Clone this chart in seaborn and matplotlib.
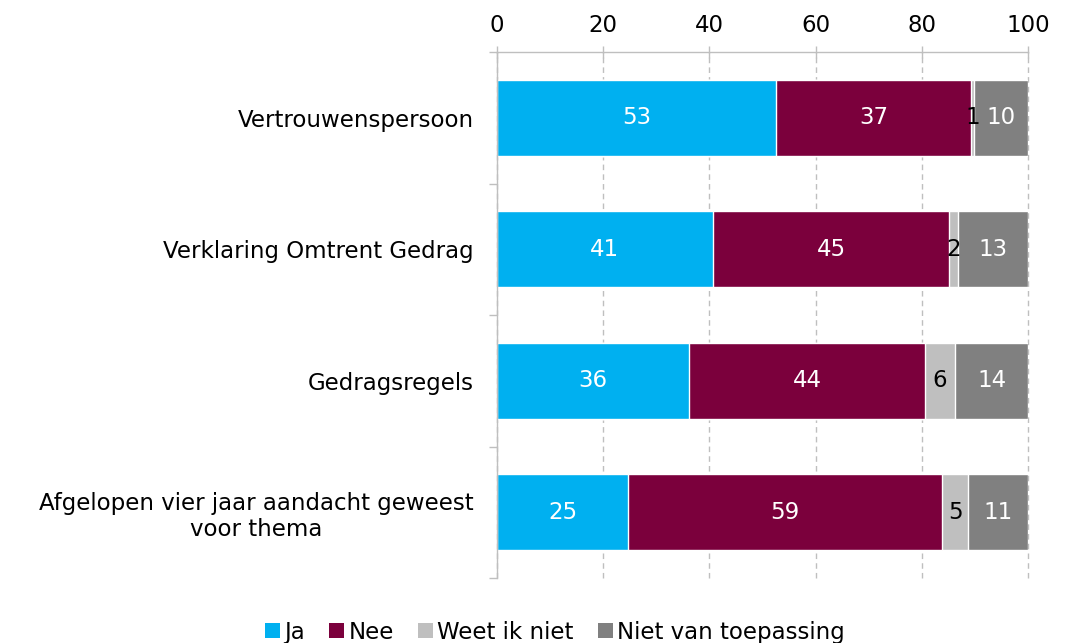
import matplotlib
matplotlib.use("Agg")
import matplotlib.pyplot as plt
import seaborn as sns
import pandas as pd
import numpy as np
from matplotlib.patches import Patch

categories = ["Vertrouwenspersoon", "Verklaring Omtrent Gedrag", "Gedragsregels",
              "Afgelopen vier jaar aandacht geweest\nvoor thema"]
series_names = ["Ja", "Nee", "Weet ik niet", "Niet van toepassing"]
ja = [52.6, 40.6, 36.2, 24.7]
nee = [36.6, 44.6, 44.4, 59.1]
weet = [0.6, 1.6, 5.7, 4.9]
niet = [10.2, 13.2, 13.7, 11.3]
colors = ["#00B0F0", "#7B003C", "#BFBFBF", "#808080"]
label_colors = ["white", "white", "black", "white"]
x_ticks = [0, 20, 40, 60, 80, 100]

sns.set_theme(style="white")
plt.rcParams['font.family'] = ['DejaVu Sans']
plt.rcParams['text.color'] = 'black'
plt.rcParams['xtick.labelcolor'] = 'black'
plt.rcParams['ytick.labelcolor'] = 'black'

FS = 16.5

fig = plt.figure(figsize=(10.69, 6.43), dpi=100)
ax = fig.add_axes([0.465, 0.101, 0.4967, 0.818])

series = [ja, nee, weet, niet]
cum = np.cumsum(np.array(series), axis=0)

# draw from the full stack downwards so each earlier segment overlays
for i in range(len(series) - 1, -1, -1):
    df = pd.DataFrame({"cat": categories, "val": cum[i]})
    sns.barplot(data=df, x="val", y="cat", orient="h", color=colors[i],
                saturation=1, width=0.58, ax=ax, zorder=2)

# value labels
for i, vals in enumerate(series):
    for j, v in enumerate(vals):
        left = cum[i][j] - v
        ax.text(left + v / 2, j, f"{round(v):d}", ha="center", va="center",
                color=label_colors[i], fontsize=FS, zorder=5)

ax.set_xlim(0, 100)
ax.set_ylim(3.5, -0.5)
ax.set_xlabel("")
ax.set_ylabel("")

ax.xaxis.tick_top()
ax.set_xticks(x_ticks)
ax.set_xticklabels([str(t) for t in x_ticks])
ax.tick_params(axis="x", which="major", direction="inout", length=8, width=1,
               color="#BFBFBF", labelsize=FS, pad=7, top=True, bottom=False)
ax.grid(axis="x", color="#BFBFBF", linestyle=(0, (4, 3)), linewidth=1, zorder=0)
ax.set_axisbelow(True)
for gl in ax.get_xgridlines():
    gl.set_clip_on(False)

ax.set_yticks(range(len(categories)))
ax.set_yticklabels(categories, fontsize=FS)
for lab in ax.get_yticklabels():
    lab.set_multialignment("center")
ax.tick_params(axis="y", which="major", length=0, pad=17)
ax.set_yticks(np.arange(-0.5, len(categories), 1.0), minor=True)
ax.tick_params(axis="y", which="minor", length=6, width=1, color="#BFBFBF",
               direction="out", left=True)

for s in ["right", "bottom"]:
    ax.spines[s].set_visible(False)
for s in ["top", "left"]:
    ax.spines[s].set_color("#BFBFBF")
    ax.spines[s].set_linewidth(1)

handles = [Patch(facecolor=c, edgecolor="none", label=n) for c, n in zip(colors, series_names)]
fig.legend(handles=handles, loc="center", bbox_to_anchor=(0.519, 0.017), ncol=4,
           frameon=False, fontsize=FS, handlelength=0.65, handleheight=0.65,
           handletextpad=0.2, columnspacing=1.05)

fig.savefig("out.png", dpi=100)
